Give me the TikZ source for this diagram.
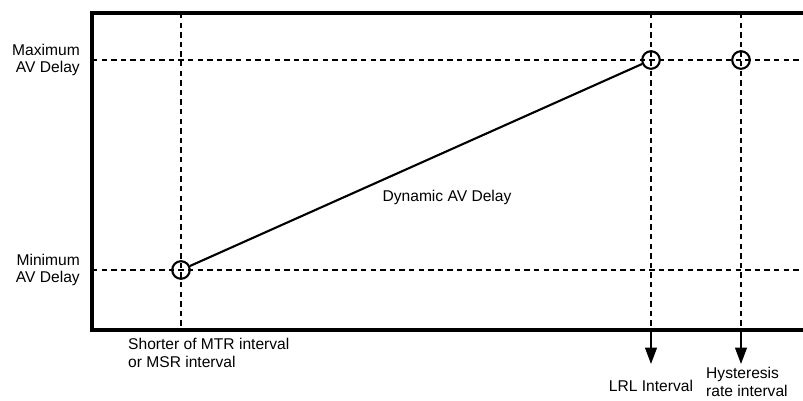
\documentclass[tikz,border=0pt]{standalone}
\usepackage{fontspec}
\setmainfont{Liberation Sans}
\usetikzlibrary{arrows.meta}
\tikzset{
  grid/.style={line width=1.7pt,dash pattern=on 4.6pt off 3.6pt},
  frame/.style={line width=2.6pt},
  pt/.style={circle,draw,line width=1.8pt,minimum size=15pt,inner sep=0pt},
  lbl/.style={font=\fontsize{13.3}{15}\selectfont,inner sep=0pt},
}
\begin{document}
\begin{tikzpicture}[x=0.03cm,y=-0.03cm]
\useasboundingbox (0,0) rectangle (803,401);
% Dashed guide lines
\draw[grid] (92,60) -- (803,60);
\draw[grid] (92,270) -- (803,270);
\foreach \xx in {181,651,741}
  \draw[grid] (\xx,13) -- (\xx,330);
% Frame (right side runs off the page)
\draw[frame] (803,13) -- (92,13) -- (92,330) -- (803,330);
% Operating points and the dynamic delay line
\node[pt] (lo) at (181,270) {};
\node[pt] (hi) at (651,60) {};
\node[pt] (hy) at (741,60) {};
\draw[line width=1.8pt] (lo) -- (hi);
% Arrows down to the interval labels
\coordinate (lrl) at (651,330);
\coordinate (hys) at (741,330);
\draw[line width=1.8pt,-{Triangle[width=10pt,length=14pt]}] (lrl) -- (651,364);
\draw[line width=1.8pt,-{Triangle[width=10pt,length=14pt]}] (hys) -- (741,364);
% Labels
\node[lbl,align=right,anchor=east] (maxd) at (80,60) {Maximum\\AV Delay};
\node[lbl,align=right,anchor=east] (mind) at (80,270) {Minimum\\AV Delay};
\node[lbl] (dyn) at (447,197) {Dynamic AV Delay};
\node[lbl,align=left,anchor=north west] (short) at (128,338) {Shorter of MTR interval\\or MSR interval};
\node[lbl] (lrlt) at (651,386) {LRL Interval};
\node[lbl,align=left,anchor=north west] (hyst) at (706,367) {Hysteresis\\rate interval};
\end{tikzpicture}
\end{document}
